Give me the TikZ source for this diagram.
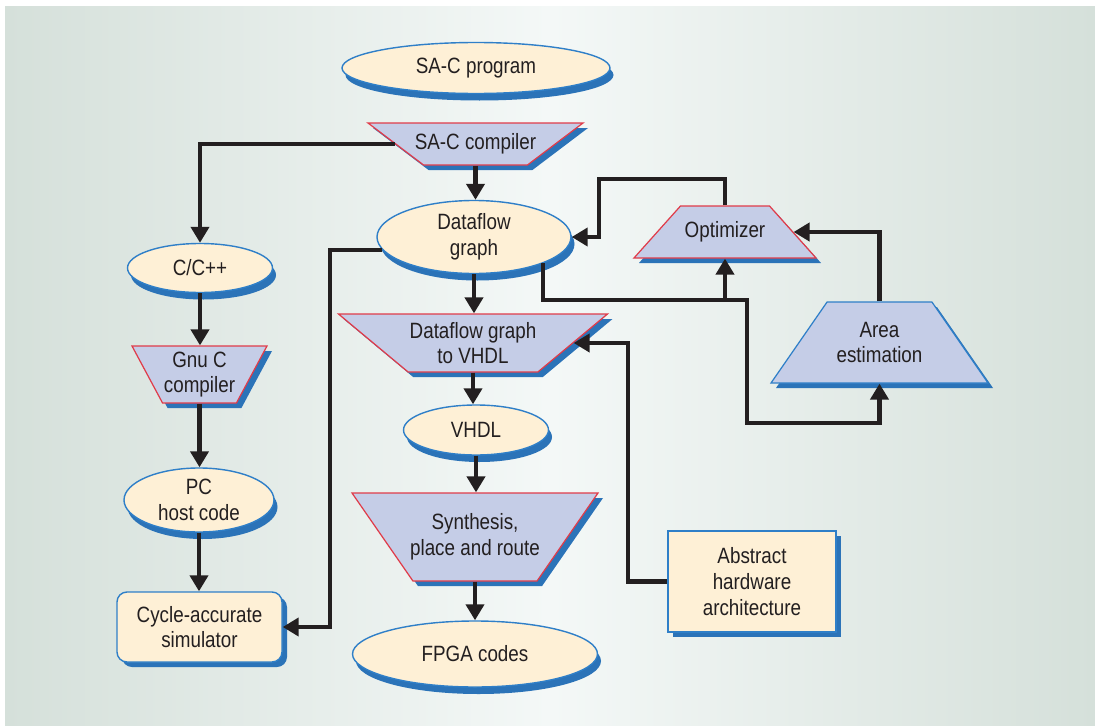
\documentclass[tikz,border=0pt]{standalone}
\usepackage{fontspec}
\setmainfont{Liberation Sans}[FakeStretch=0.85]
\usepackage{tikz}
\usetikzlibrary{arrows.meta,positioning,calc,shapes.geometric,shadows}
\definecolor{cream}{RGB}{254,240,214}
\definecolor{lavender}{RGB}{197,205,231}
\definecolor{shblue}{RGB}{43,115,184}
\definecolor{edgeblue}{RGB}{47,127,200}
\definecolor{edgered}{RGB}{224,60,74}
\definecolor{bgedge}{RGB}{213,224,218}
\definecolor{bgmid}{RGB}{244,248,247}
\definecolor{ink}{RGB}{35,31,32}
\begin{document}
\begin{tikzpicture}
    \tikzstyle{every node}=[text=ink,font=\fontsize{12.6}{14.7}\selectfont,align=center,inner sep=0pt]
    \tikzstyle{data}=[ellipse,draw=edgeblue,line width=0.8pt,fill=cream,
      drop shadow={shadow xshift=0.07cm,shadow yshift=-0.14cm,fill=shblue,opacity=1}]
    \tikzstyle{tool}=[trapezium,trapezium stretches body=true,draw=edgered,line width=0.7pt,fill=lavender,
      drop shadow={shadow xshift=0.1cm,shadow yshift=-0.1cm,fill=shblue,opacity=1}]
    \tikzstyle{box}=[rectangle,draw=edgeblue,line width=1.1pt,fill=cream,
      drop shadow={shadow xshift=0.1cm,shadow yshift=-0.1cm,fill=shblue,opacity=1}]
    \tikzstyle{arrow}=[line width=2.3pt,draw=ink,-{Triangle[length=0.32cm,width=0.36cm]}]
    \tikzstyle{wire}=[line width=2.3pt,draw=ink]

    \useasboundingbox (0,0) rectangle (21.90,-14.52);
    \fill[left color=bgedge,right color=bgedge,middle color=bgmid] (0.10,-0.14) rectangle (21.90,-14.52);

    % main column
    \node[data,minimum width=5.36cm,minimum height=1.02cm] at (9.52,-1.36) (prog) {SA-C program};
    \node[tool,shape border rotate=180,minimum width=4.30cm,inner ysep=0.42cm,trapezium angle=37.1,
      label={center:SA-C compiler}] at (9.51,-2.88) (sac) {};
    \node[data,minimum width=3.88cm,minimum height=1.46cm] at (9.48,-4.74) (dg) {Dataflow\\graph};
    \node[tool,shape border rotate=180,minimum width=5.38cm,inner ysep=0.58cm,trapezium angle=39.8,
      label={[align=center]center:Dataflow graph\\to VHDL}] at (9.46,-6.86) (dgv) {};
    \node[data,minimum width=2.90cm,minimum height=1.00cm] at (9.52,-8.60) (vhdl) {VHDL};
    \node[tool,shape border rotate=180,minimum width=4.92cm,inner ysep=0.88cm,trapezium angle=55.3,
      label={[align=center]center:Synthesis,\\place and route}] at (9.50,-10.74) (syn) {};
    \node[data,minimum width=4.90cm,minimum height=1.32cm] at (9.50,-13.08) (fpga) {FPGA codes};

    % host column
    \node[data,minimum width=2.90cm,minimum height=0.98cm] at (4.00,-5.36) (cpp) {C/C++};
    \node[tool,shape border rotate=180,minimum width=2.70cm,inner ysep=0.57cm,trapezium angle=61.8,
      label={[align=center]center:Gnu C\\compiler}] at (3.99,-7.49) (gnu) {};
    \node[data,minimum width=3.00cm,minimum height=1.28cm] at (3.98,-10.00) (pc) {PC\\host code};
    \node[box,rounded corners=0.2cm,line width=0.8pt,minimum width=3.30cm,minimum height=1.40cm] at (3.99,-12.54) (sim) {Cycle-accurate\\simulator};

    % feedback side
    \node[tool,minimum width=3.64cm,inner ysep=0.52cm,trapezium angle=48.2,
      label={center:Optimizer}] at (14.50,-4.64) (opt) {};
    \node[tool,draw=edgeblue,minimum width=4.34cm,inner ysep=0.81cm,trapezium angle=55.3,
      label={[align=center]center:Area\\estimation}] at (17.59,-6.85) (area) {};
    \node[box,minimum width=3.36cm,minimum height=2.02cm] at (15.04,-11.63) (abs) {Abstract\\hardware\\architecture};

    \coordinate (lbus) at (6.60,-4.96);
    \coordinate (junc) at (14.50,-6.00);
    \coordinate (turn) at (14.94,-8.46);
    \coordinate (optloop) at (11.98,-3.58);
    \coordinate (absbus) at (12.56,-6.86);

    \foreach \a/\b in {sac/dg,dg/dgv,dgv/vhdl,vhdl/syn,syn/fpga,cpp/gnu,gnu/pc,pc/sim} {
      \draw[arrow] (\a.south) -- (\a.south |- \b.north);
    }
    \draw[arrow] (sac.west) -| (cpp.north);
    \draw[arrow] (dg.188) -- (dg.188 -| lbus) |- (sim.east);
    \draw[wire] (dg.-21) |- (junc);
    \draw[arrow] (junc) -- (opt.south);
    \draw[arrow] (junc) -| (turn) -| (area.south);
    \draw[arrow] (area.north) |- (opt.east);
    \draw[arrow] (opt.north) |- (optloop) |- (dg.east);
    \draw[arrow] (abs.west) -| (absbus) -- (dgv.east);
  \end{tikzpicture}
\end{document}
